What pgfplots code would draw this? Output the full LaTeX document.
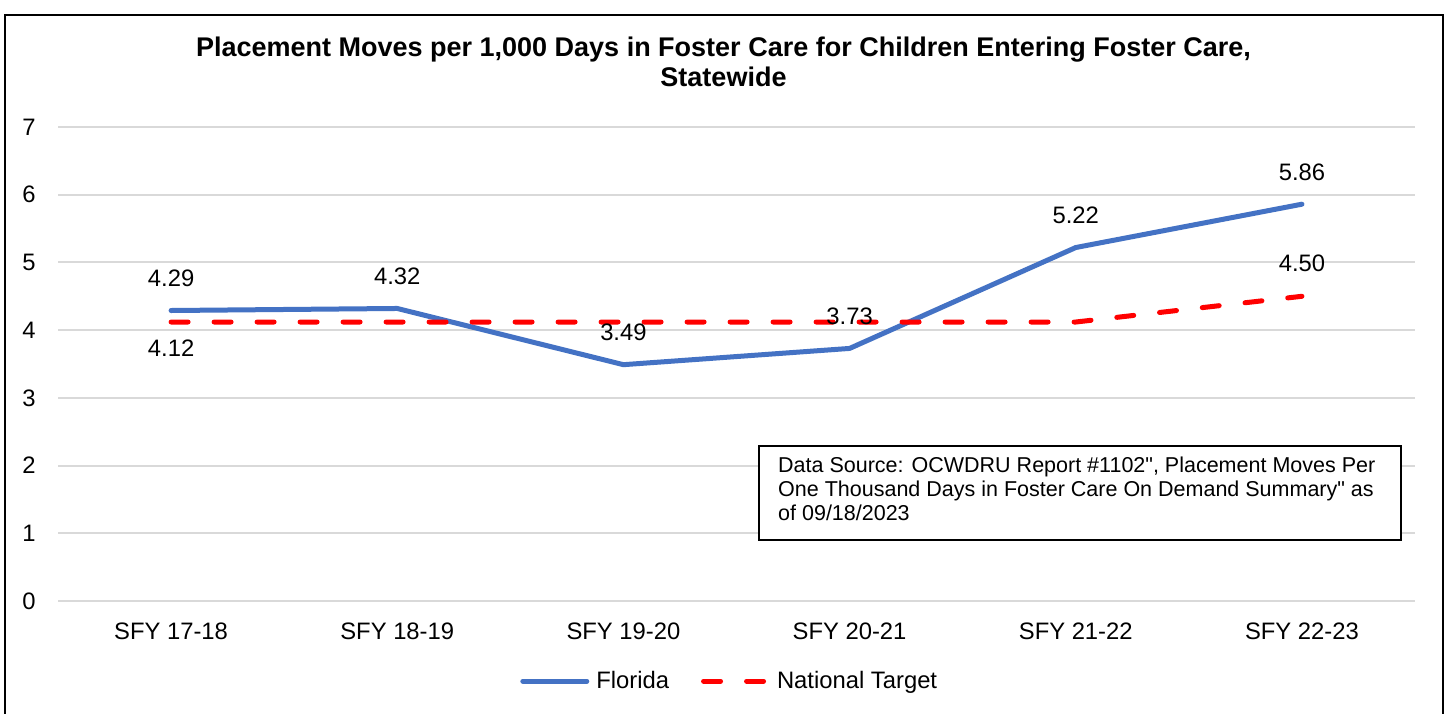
\documentclass[border=0pt]{standalone}
\usepackage{pgfplots}
\pgfplotsset{compat=1.18}
\usepackage{fontspec}
\setmainfont{Liberation Sans}[Ligatures=TeXOff]
\definecolor{flblue}{HTML}{4472C4}
\definecolor{ntred}{HTML}{FF0000}
\definecolor{gridgray}{HTML}{D9D9D9}
\newcommand{\lblfont}{\fontsize{23.8}{26}\selectfont}
\begin{document}
\begin{tikzpicture}
\useasboundingbox (0pt,0pt) rectangle (1447pt,713pt);
\clip (0pt,0pt) rectangle (1447pt,713pt);
\fill[white] (0pt,0pt) rectangle (1447pt,713pt);
\begin{axis}[
  at={(58pt,112pt)}, anchor=south west,
  scale only axis, width=1357pt, height=474pt,
  xmin=-0.5, xmax=5.5, ymin=0, ymax=7,
  xtick={0,1,2,3,4,5},
  xticklabels={SFY 17-18,SFY 18-19,SFY 19-20,SFY 20-21,SFY 21-22,SFY 22-23},
  ytick={0,1,2,3,4,5,6,7},
  axis line style={draw=none},
  major tick length=0pt,
  ymajorgrids,
  major grid style={draw=gridgray, line width=2pt},
  tick label style={font=\lblfont, text=black},
  yticklabel style={anchor=center, xshift=-29pt, /pgf/number format/assume math mode=true},
  xticklabel style={anchor=center, yshift=-30pt},
  legend columns=2,
  legend style={at={(0.495,-0.169)}, anchor=center, draw=none, fill=none, font=\lblfont,
    /tikz/every even column/.append style={column sep=30pt}},
  legend image code/.code={\draw[#1] (0pt,0pt) -- (64pt,0pt); \path (69pt,0pt);},
  clip=false,
]
\addplot[flblue, line width=5pt, line join=round, line cap=round,
  point meta=explicit symbolic, nodes near coords,
  every node near coord/.append style={anchor=center, yshift=32pt, text=black, font=\lblfont}]
  coordinates {(0,4.29)[4.29] (1,4.32)[4.32] (2,3.49)[3.49] (3,3.73)[3.73] (4,5.22)[5.22] (5,5.86)[5.86]};
\addlegendentry{Florida}
\addplot[ntred, line width=5pt, line cap=round, dash pattern=on 17pt off 26pt]
  coordinates {(0,4.12) (1,4.12) (2,4.12) (3,4.12) (4,4.12) (5,4.50)};
\addlegendentry{National Target}
\addplot[draw=none, forget plot, point meta=explicit symbolic, nodes near coords,
  every node near coord/.append style={anchor=center, yshift=-26pt, text=black, font=\lblfont}]
  coordinates {(0,4.12)[4.12]};
\addplot[draw=none, forget plot, point meta=explicit symbolic, nodes near coords,
  every node near coord/.append style={anchor=center, yshift=33pt, text=black, font=\lblfont}]
  coordinates {(5,4.50)[4.50]};
\end{axis}
\node[align=center, font=\fontsize{27}{30}\selectfont\bfseries] at (723.5pt,651pt)
  {Placement Moves per 1,000 Days in Foster Care for Children Entering Foster Care,\\Statewide};
\draw[line width=1.5pt, fill=white] (759pt,173pt) rectangle (1401pt,267pt);
\node[anchor=north west, align=left, inner sep=0pt, font=\fontsize{21.5}{24}\selectfont] at (778pt,256pt)
  {Data Source: OCWDRU Report \#1102", Placement Moves Per\\One Thousand Days in Foster Care On Demand Summary" as\\of 09/18/2023};
\draw[line width=2pt] (5pt,-20pt) rectangle (1443pt,698pt);
\end{tikzpicture}
\end{document}
